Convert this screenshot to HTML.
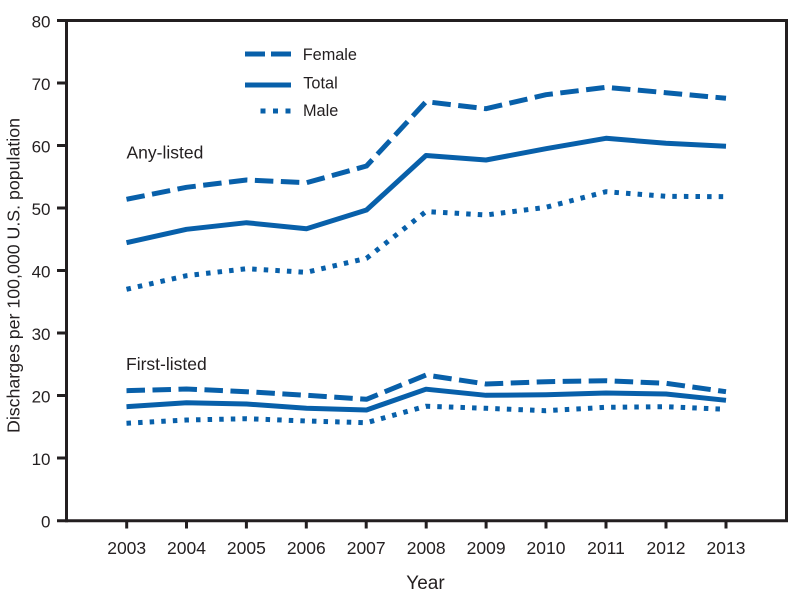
<!DOCTYPE html>
<html>
<head>
<meta charset="utf-8">
<style>
html,body{margin:0;padding:0;background:#fff;}
svg{display:block;}
text{font-family:"Liberation Sans",sans-serif;fill:#231f20;}
</style>
</head>
<body>
<svg width="801" height="598" viewBox="0 0 801 598" xmlns="http://www.w3.org/2000/svg">
<rect width="801" height="598" fill="#fff"/>
<!-- frame -->
<g stroke="#231f20" stroke-width="3" fill="none">
  <polyline points="57,20.5 786.5,20.5 786.5,520.7 57,520.7"/>
  <line x1="66.5" y1="19" x2="66.5" y2="522.2"/>
  <!-- y ticks -->
  <line x1="57" y1="83" x2="66" y2="83"/>
  <line x1="57" y1="145.5" x2="66" y2="145.5"/>
  <line x1="57" y1="208" x2="66" y2="208"/>
  <line x1="57" y1="270.5" x2="66" y2="270.5"/>
  <line x1="57" y1="333" x2="66" y2="333"/>
  <line x1="57" y1="395.5" x2="66" y2="395.5"/>
  <line x1="57" y1="458" x2="66" y2="458"/>
  <!-- x ticks -->
  <line x1="126.7" y1="521" x2="126.7" y2="528.5"/>
  <line x1="186.5" y1="521" x2="186.5" y2="528.5"/>
  <line x1="246.4" y1="521" x2="246.4" y2="528.5"/>
  <line x1="306.3" y1="521" x2="306.3" y2="528.5"/>
  <line x1="366.2" y1="521" x2="366.2" y2="528.5"/>
  <line x1="426.2" y1="521" x2="426.2" y2="528.5"/>
  <line x1="486.1" y1="521" x2="486.1" y2="528.5"/>
  <line x1="546" y1="521" x2="546" y2="528.5"/>
  <line x1="606" y1="521" x2="606" y2="528.5"/>
  <line x1="666" y1="521" x2="666" y2="528.5"/>
  <line x1="726" y1="521" x2="726" y2="528.5"/>
</g>
<!-- y labels -->
<g font-size="17" text-anchor="end">
  <text x="50.5" y="27.7">80</text>
  <text x="50.5" y="90.2">70</text>
  <text x="50.5" y="152.7">60</text>
  <text x="50.5" y="215.2">50</text>
  <text x="50.5" y="277.7">40</text>
  <text x="50.5" y="340.2">30</text>
  <text x="50.5" y="402.7">20</text>
  <text x="50.5" y="465.2">10</text>
  <text x="50.5" y="527.7">0</text>
</g>
<!-- x labels -->
<g font-size="17.5" text-anchor="middle">
  <text x="126.7" y="554">2003</text>
  <text x="186.5" y="554">2004</text>
  <text x="246.4" y="554">2005</text>
  <text x="306.3" y="554">2006</text>
  <text x="366.2" y="554">2007</text>
  <text x="426.2" y="554">2008</text>
  <text x="486.1" y="554">2009</text>
  <text x="546" y="554">2010</text>
  <text x="606" y="554">2011</text>
  <text x="666" y="554">2012</text>
  <text x="726" y="554">2013</text>
</g>
<text x="425.5" y="589" font-size="19" text-anchor="middle">Year</text>
<text transform="translate(19.5,275.5) rotate(-90)" font-size="17.5" text-anchor="middle" textLength="315" lengthAdjust="spacingAndGlyphs">Discharges per 100,000 U.S. population</text>
<text x="126.5" y="158.3" font-size="17.5">Any-listed</text>
<text x="126" y="370" font-size="17.5">First-listed</text>
<!-- series -->
<g fill="none" stroke="#0860aa" stroke-width="5" stroke-linejoin="round" stroke-linecap="butt">
  <polyline stroke-dasharray="18.5 7.5" points="126.5,199.3 186.5,187.3 246.5,180 306.5,182.7 366.5,166 426,101.7 486,108.7 546,94.7 606,87.3 666,92.7 726,98.3"/>
  <polyline points="126.5,242.7 186.5,229.3 246.5,222.7 306.5,228.7 366.5,210 426,155.5 486,160 546,148.7 606,138.3 666,143.3 726,146.3"/>
  <polyline stroke-dasharray="4.5 7.1" points="126.5,289.3 186.5,275.7 246.5,268.7 306.5,272.3 366.5,258.3 426,211.5 486,215 546,207.3 606,191.7 666,196.3 726,196.7"/>
  <polyline stroke-dasharray="18.5 7.5" points="126.5,390.7 186.5,389 246.5,391.7 306.5,395.3 366.5,399.3 426,375 486,384 546,381.7 606,380.7 666,383.3 726,391.7"/>
  <polyline points="126.5,406.7 186.5,402.7 246.5,404 306.5,408.3 366.5,410 426,389.2 486,395.3 546,394.7 606,393 666,394 726,400.3"/>
  <polyline stroke-dasharray="4.5 7.1" points="126.5,423.3 186.5,420 246.5,418.7 306.5,421 366.5,422.7 426,406.2 486,408.3 546,410.7 606,407.3 666,406.7 726,409.3"/>
</g>
<!-- legend -->
<g fill="#0860aa">
  <rect x="245" y="51.5" width="20" height="5"/>
  <rect x="271" y="51.5" width="20" height="5"/>
  <rect x="245" y="82.5" width="46" height="5"/>
  <rect x="260.5" y="108.5" width="5" height="5"/>
  <rect x="273" y="108.5" width="5" height="5"/>
  <rect x="285.5" y="108.5" width="5" height="5"/>
</g>
<g font-size="16.3">
  <text x="302.7" y="60">Female</text>
  <text x="303.3" y="88.3">Total</text>
  <text x="303" y="116">Male</text>
</g>
</svg>
</body>
</html>
